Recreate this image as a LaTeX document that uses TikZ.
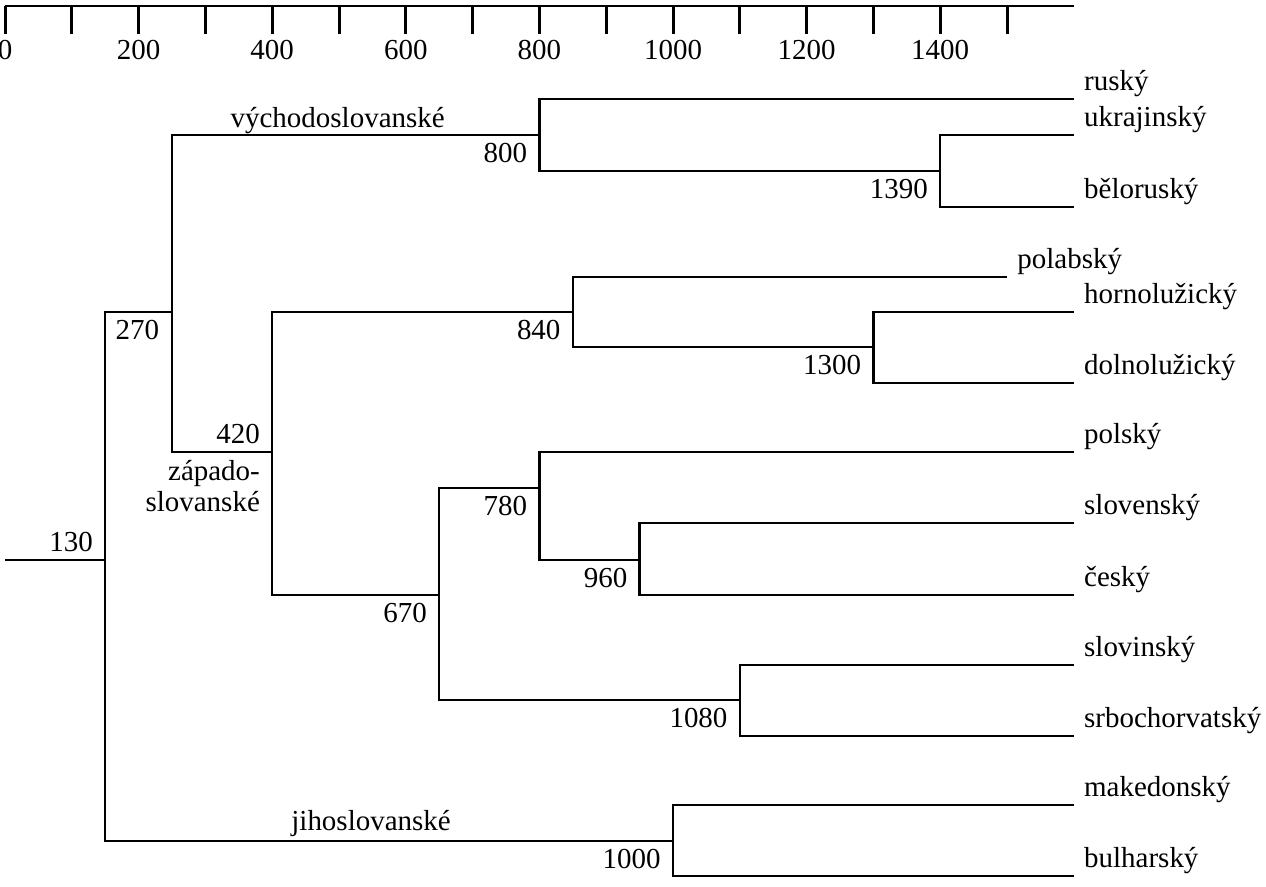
\documentclass[tikz,border=0pt]{standalone}
\usepackage{fontspec}
\setmainfont{Liberation Serif}
\newfontfamily\treefont{Liberation Serif}
\begin{document}
\begin{tikzpicture}[
	x=0.01336cm, y=-0.02cm,
	font=\treefont\fontsize{16.5}{20}\selectfont,
	branch/.style={line width=1.4pt},
	scaleline/.style={line width=1.7pt},
	leaf/.style={anchor=base west, inner sep=0pt, xshift=0.2cm, yshift=0.16cm},
	year/.style={anchor=base east, inner sep=0pt, xshift=-0.24cm, yshift=-0.56cm},
	yearup/.style={anchor=base east, inner sep=0pt, xshift=-0.24cm, yshift=0.16cm},
	group/.style={anchor=base, inner sep=0pt}
	]
	\useasboundingbox (-7.5,0) rectangle (1887.7,887);
	
	% Time scale
	\draw[scaleline] (0,6) -- (1600,6);
	\foreach \t in {0,100,...,1500}
		\draw[scaleline] (\t,6) -- (\t,34);
	\foreach \t in {0,200,...,1400}
		\node[anchor=base, inner sep=0pt] (s\t) at (\t,60) {\t};
	
	% Branching points
	\coordinate (root) at (0,560);
	\coordinate (n130) at (150,560);
	\coordinate (n270) at (250,312);
	\coordinate (n800) at (800,135);
	\coordinate (n1390) at (1400,171);
	\coordinate (n420) at (400,452);
	\coordinate (n840) at (850,312);
	\coordinate (n1300) at (1300,347);
	\coordinate (n670) at (650,595);
	\coordinate (n780) at (800,488);
	\coordinate (n960) at (950,560);
	\coordinate (n1080) at (1100,700);
	\coordinate (n1000) at (1000,841);
	
	% Languages
	\foreach \name/\x/\y/\lang in {rusky/1600/99/ruský, ukrajinsky/1600/135/ukrajinský,
		belorusky/1600/207/běloruský, polabsky/1500/277/polabský,
		hornoluzicky/1600/312/hornolužický, dolnoluzicky/1600/383/dolnolužický,
		polsky/1600/452/polský, slovensky/1600/523/slovenský, cesky/1600/595/český,
		slovinsky/1600/665/slovinský, srbochorvatsky/1600/736/srbochorvatský,
		makedonsky/1600/805/makedonský, bulharsky/1600/876/bulharský} {
		\coordinate (\name) at (\x,\y);
		\node[leaf] (t\name) at (\name) {\lang};
	}
	
	% Branches
	\draw[branch] (root) -- (n130);
	\foreach \a/\b in {n130/n270, n130/n1000, n270/n800, n270/n420,
		n800/rusky, n800/n1390, n1390/ukrajinsky, n1390/belorusky,
		n420/n840, n420/n670, n840/polabsky, n840/n1300,
		n1300/hornoluzicky, n1300/dolnoluzicky, n670/n780, n670/n1080,
		n780/polsky, n780/n960, n960/slovensky, n960/cesky,
		n1080/slovinsky, n1080/srbochorvatsky, n1000/makedonsky, n1000/bulharsky}
		\draw[branch] (\a) |- (\b);
	
	% Dates
	\node[yearup] (l130) at (n130) {130};
	\node[anchor=base west, inner sep=0pt, xshift=0.2cm, yshift=-0.56cm] (l270) at (n130 |- n270) {270};
	\node[yearup] (l420) at (n420) {420};
	\foreach \n in {800,1390,840,1300,670,780,960,1080,1000}
		\node[year] (l\n) at (n\n) {\n};
	
	% Groups
	\node[group] (east) at (498,128) {východoslovanské};
	\node[group] (south) at (548,831) {jihoslovanské};
	\node[anchor=north east, align=right, inner sep=0pt, font=\treefont\fontsize{16.5}{17.6}\selectfont,
		xshift=-0.24cm, yshift=-0.16cm] (west) at (n420) {západo-\\slovanské};
	
\end{tikzpicture}
\end{document}
